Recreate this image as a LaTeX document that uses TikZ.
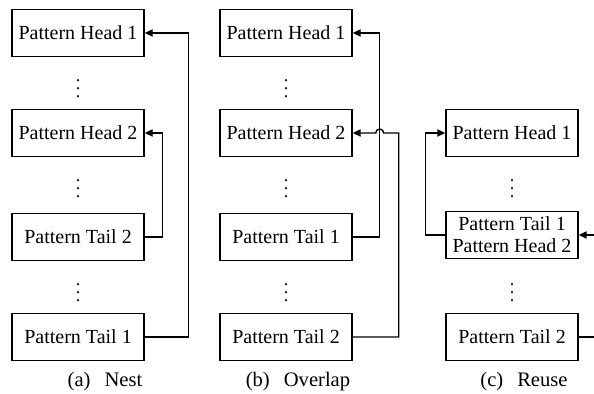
\documentclass[tikz,border=0pt]{standalone}
\usepackage{fontspec}
\setmainfont{Liberation Serif}
\usepackage{tikz}
\usetikzlibrary{arrows.meta,positioning,calc}

\begin{document}
\begin{tikzpicture}[x=0.5pt, y=0.5pt, >={Triangle[length=4pt,width=3.6pt]},
  box/.style={draw, line width=0.7pt, minimum width=66pt, minimum height=23.5pt,
    inner sep=1pt, align=center, font=\fontsize{10}{11}\selectfont},
  dots/.style={inner sep=0pt, font=\fontsize{9}{10}\selectfont},
  caption/.style={inner sep=0pt, font=\fontsize{10.3}{12}\selectfont},
  link/.style={->, line width=0.7pt}]

  \useasboundingbox (0,0) rectangle (594,394);

  % (a) Nest
  \node[box] (Ha1) at (78,361) {Pattern Head 1};
  \node[box] (Ha2) at (78,261) {Pattern Head 2};
  \node[box] (Ta2) at (78,157) {Pattern Tail 2};
  \node[box] (Ta1) at (78,57) {Pattern Tail 1};
  \node[dots] (da1) at (78,311) {$\vdots$};
  \node[dots] (da2) at (78,211) {$\vdots$};
  \node[dots] (da3) at (78,107) {$\vdots$};
  \node[caption] (capa) at (105,12) {(a)\hspace{7pt}Nest};

  \draw[link] (Ta1.east) -- ++(44,0) |- (Ha1.east);
  \draw[link] (Ta2.east) -- ++(18,0) |- (Ha2.east);

  % (b) Overlap
  \node[box] (Hb1) at (286,361) {Pattern Head 1};
  \node[box] (Hb2) at (286,261) {Pattern Head 2};
  \node[box] (Tb1) at (286,157) {Pattern Tail 1};
  \node[box] (Tb2) at (286,57) {Pattern Tail 2};
  \node[dots] (db1) at (286,311) {$\vdots$};
  \node[dots] (db2) at (286,211) {$\vdots$};
  \node[dots] (db3) at (286,107) {$\vdots$};
  \node[caption] (capb) at (298,12) {(b)\hspace{7pt}Overlap};

  \draw[link] (Tb1.east) -- ++(27,0) |- (Hb1.east);
  \draw[link] (Tb2.east) -| ($(Hb2.east)+(46,0)$) -- ($(Hb2.east)+(31,0)$)
    arc[start angle=0, end angle=180, radius=2pt] -- (Hb2.east);

  % (c) Reuse
  \node[box] (Hc1) at (512,261) {Pattern Head 1};
  \node[box] (Tc1) at (512,159) {Pattern Tail 1\\Pattern Head 2};
  \node[box] (Tc2) at (512,57) {Pattern Tail 2};
  \node[dots] (dc1) at (512,211) {$\vdots$};
  \node[dots] (dc2) at (512,107) {$\vdots$};
  \node[caption] (capc) at (524,12) {(c)\hspace{7pt}Reuse};

  \draw[link] (Tc1.west) -- ++(-20,0) |- (Hc1.west);
  \draw[link] (Tc2.east) -- ++(17,0) |- (Tc1.east);
\end{tikzpicture}
\end{document}
